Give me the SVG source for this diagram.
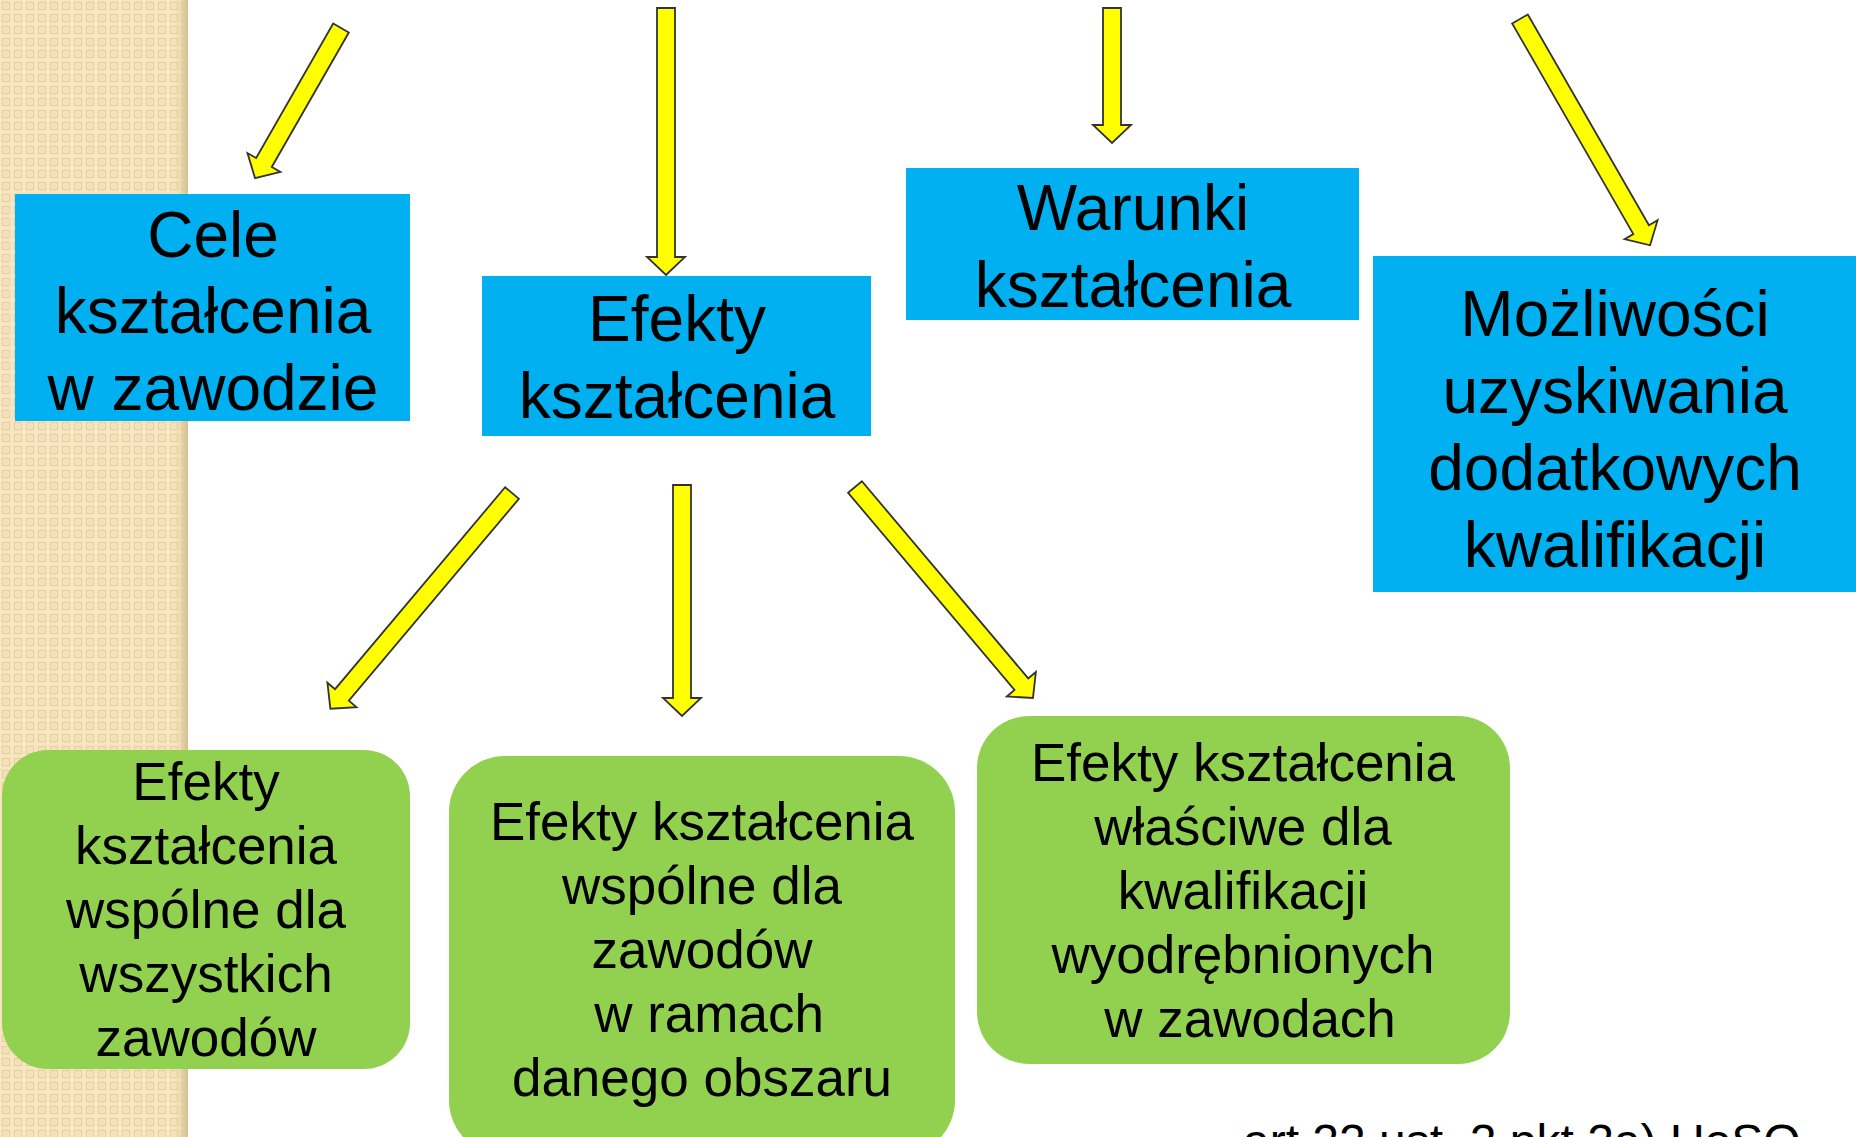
<svg xmlns="http://www.w3.org/2000/svg" width="1856" height="1137" viewBox="0 0 1856 1137">
<defs>
<pattern id="tex" width="12" height="12" patternUnits="userSpaceOnUse">
<rect width="12" height="12" fill="#F7E6C1"/>
<rect x="2.5" y="2.5" width="7" height="7" fill="none" stroke="#E6D1A2" stroke-width="1.3"/>
<rect x="4.5" y="4.5" width="3" height="3" fill="#F1DDB2"/>
</pattern>
<linearGradient id="shade" x1="0" y1="0" x2="1" y2="0">
<stop offset="0" stop-color="#D9C394" stop-opacity="0"/>
<stop offset="1" stop-color="#D2BC8C" stop-opacity="0.9"/>
</linearGradient>
<style>
.blue{fill:#00B0F0}
.green{fill:#92D050}
.arrow{fill:#FFFF00;stroke:#333333;stroke-width:1.8;stroke-linejoin:miter}
.tb{font-family:"Liberation Sans",Arial,sans-serif;font-size:64px;fill:#000;text-anchor:middle}
.tg{font-family:"Liberation Sans",Arial,sans-serif;font-size:53px;fill:#000;text-anchor:middle}
.ref{font-family:"Liberation Sans",Arial,sans-serif;font-size:48px;fill:#000}
</style>
</defs>
<rect width="1856" height="1137" fill="#FFFFFF"/>
<g id="sidebar">
<rect x="0" y="0" width="188" height="1137" fill="url(#tex)"/>
<rect x="176" y="0" width="12" height="1137" fill="url(#shade)"/>
</g>
<g id="connectors">
<polygon class="arrow" transform="translate(341,28) rotate(29.8)" points="-9,0 9,0 9,155 19,155 0,173 -19,155 -9,155"/>
<polygon class="arrow" transform="translate(666,8)" points="-9,0 9,0 9,249 19,249 0,267 -19,249 -9,249"/>
<polygon class="arrow" transform="translate(1112,8)" points="-9,0 9,0 9,117 19,117 0,135 -19,117 -9,117"/>
<polygon class="arrow" transform="translate(1520,19) rotate(-29.9)" points="-9,0 9,0 9,243 19,243 0,261 -19,243 -9,243"/>
<polygon class="arrow" transform="translate(512,493) rotate(40.1)" points="-9,0 9,0 9,264 19,264 0,282 -19,264 -9,264"/>
<polygon class="arrow" transform="translate(682,485)" points="-9,0 9,0 9,213 19,213 0,231 -19,213 -9,213"/>
<polygon class="arrow" transform="translate(855,487) rotate(-40.15)" points="-9,0 9,0 9,258 19,258 0,276 -19,258 -9,258"/>
</g>
<g id="cele">
<rect class="blue" x="15" y="194" width="395" height="227"/>
<text class="tb" x="213" y="257">Cele</text>
<text class="tb" x="213" y="333">kształcenia</text>
<text class="tb" x="213" y="410">w zawodzie</text>
</g>
<g id="efekty">
<rect class="blue" x="482" y="276" width="389" height="160"/>
<text class="tb" x="677" y="341">Efekty</text>
<text class="tb" x="677" y="418">kształcenia</text>
</g>
<g id="warunki">
<rect class="blue" x="906" y="168" width="453" height="152"/>
<text class="tb" x="1133" y="230">Warunki</text>
<text class="tb" x="1133" y="307">kształcenia</text>
</g>
<g id="mozliwosci">
<rect class="blue" x="1373" y="256" width="483" height="336"/>
<text class="tb" x="1615" y="336">Możliwości</text>
<text class="tb" x="1615" y="413">uzyskiwania</text>
<text class="tb" x="1615" y="490">dodatkowych</text>
<text class="tb" x="1615" y="567">kwalifikacji</text>
</g>
<g id="wspolne-wszystkie">
<rect class="green" x="2" y="750" width="408" height="319" rx="46" ry="46"/>
<text class="tg" x="206" y="800">Efekty</text>
<text class="tg" x="206" y="864">kształcenia</text>
<text class="tg" x="206" y="928">wspólne dla</text>
<text class="tg" x="206" y="992">wszystkich</text>
<text class="tg" x="206" y="1056">zawodów</text>
</g>
<g id="wspolne-obszar">
<rect class="green" x="449" y="756" width="506" height="400" rx="56" ry="56"/>
<text class="tg" x="702" y="840">Efekty kształcenia</text>
<text class="tg" x="702" y="904">wspólne dla</text>
<text class="tg" x="702" y="968">zawodów</text>
<text class="tg" x="709" y="1032">w ramach</text>
<text class="tg" x="702" y="1096">danego obszaru</text>
</g>
<g id="wlasciwe">
<rect class="green" x="977" y="716" width="533" height="348" rx="52" ry="52"/>
<text class="tg" x="1243" y="781">Efekty kształcenia</text>
<text class="tg" x="1243" y="845">właściwe dla</text>
<text class="tg" x="1243" y="909">kwalifikacji</text>
<text class="tg" x="1243" y="973">wyodrębnionych</text>
<text class="tg" x="1250" y="1037">w zawodach</text>
</g>
<g id="reference">
<text class="ref" x="1243" y="1158">art 22 ust. 2 pkt 2a) UoSO</text>
</g>
</svg>
